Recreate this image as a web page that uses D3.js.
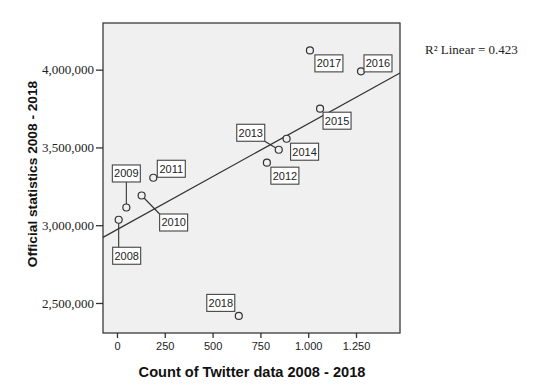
<!DOCTYPE html>
<html>
<head>
<meta charset="utf-8">
<script src="https://cdn.jsdelivr.net/npm/d3@7"></script>
<style>
  html, body { margin: 0; padding: 0; background: #fff; }
  svg { display: block; }
</style>
</head>
<body>
<svg id="chart" width="550" height="385"></svg>
<script>
// data
const years = ["2008","2009","2010","2011","2012","2013","2014","2015","2016","2017","2018"];
const twitterCounts = [9, 49, 129, 190, 784, 846, 887, 1062, 1276, 1009, 637];
const officialStats = [3035000, 3114000, 3191000, 3305000, 3402000, 3485000, 3556000, 3749000, 3989000, 4124000, 2417000];
const xTicks = [0, 250, 500, 750, 1000, 1250];
const yTicks = [2500000, 3000000, 3500000, 4000000];
const r2Text = "R\u00B2 Linear = 0.423";

// label box offsets from the point (px), layout only
const labelOffsets = [[8,36],[0,-34],[32,27],[18,-9],[18,13],[-28,-17],[18,13],[17,12],[17,-8],[19,13],[-18,-13]];

const svg = d3.select("#chart");
const plot = {left: 103, top: 23, right: 400, bottom: 333};
const boxW = 28, boxH = 17;

const x = d3.scaleLinear().domain([-73, 1480]).range([plot.left, plot.right]);
const y = d3.scaleLinear().domain([2307000, 4300000]).range([plot.bottom, plot.top]);

const pts = years.map((yr, i) => ({year: yr, x: twitterCounts[i], y: officialStats[i], off: labelOffsets[i]}));

// plot background + frame
svg.append("rect")
  .attr("x", plot.left).attr("y", plot.top)
  .attr("width", plot.right - plot.left).attr("height", plot.bottom - plot.top)
  .attr("fill", "#f0f0f0").attr("stroke", "#3a3a3a").attr("stroke-width", 1.3);

// axes
const fmtY = d3.format(",");
const fmtX = v => d3.format(",")(v).replace(/,/g, ".");

const yAxis = svg.append("g")
  .attr("transform", `translate(${plot.left},0)`)
  .call(d3.axisLeft(y).tickValues(yTicks).tickFormat(fmtY).tickSize(7).tickPadding(2));
yAxis.select(".domain").remove();
yAxis.selectAll("line").attr("stroke", "#333").attr("stroke-width", 1.3);
yAxis.selectAll("text")
  .attr("font-family", "'Liberation Serif', serif").attr("font-size", 13).attr("fill", "#222");

const xAxis = svg.append("g")
  .attr("transform", `translate(0,${plot.bottom})`)
  .call(d3.axisBottom(x).tickValues(xTicks).tickFormat(fmtX).tickSize(5).tickPadding(4));
xAxis.select(".domain").remove();
xAxis.selectAll("line").attr("stroke", "#333").attr("stroke-width", 1.3);
xAxis.selectAll("text")
  .attr("font-family", "Arial, 'Liberation Sans', sans-serif").attr("font-size", 11).attr("fill", "#222");

// regression fit
const mx = d3.mean(pts, d => d.x), my = d3.mean(pts, d => d.y);
const slope = d3.sum(pts, d => (d.x - mx) * (d.y - my)) / d3.sum(pts, d => (d.x - mx) ** 2);
const icpt = my - slope * mx;
const [x0, x1] = x.domain();
svg.append("line")
  .attr("x1", x(x0)).attr("y1", y(icpt + slope * x0))
  .attr("x2", x(x1)).attr("y2", y(icpt + slope * x1))
  .attr("stroke", "#333").attr("stroke-width", 1.2);

// leader lines (only for labels placed far away), to nearest point of the box
function clampTo(v, c, half){ return Math.max(c - half, Math.min(c + half, v)); }
svg.append("g").selectAll("line")
  .data(pts.filter(d => Math.hypot(d.off[0], d.off[1]) > 25))
  .join("line")
  .attr("x1", d => x(d.x)).attr("y1", d => y(d.y))
  .attr("x2", d => clampTo(x(d.x), x(d.x) + d.off[0], boxW / 2))
  .attr("y2", d => clampTo(y(d.y), y(d.y) + d.off[1], boxH / 2))
  .attr("stroke", "#333").attr("stroke-width", 1.1);

// points
svg.append("g").selectAll("circle")
  .data(pts)
  .join("circle")
  .attr("cx", d => x(d.x)).attr("cy", d => y(d.y))
  .attr("r", 3.5)
  .attr("fill", "#f0f0f0").attr("stroke", "#333").attr("stroke-width", 1.2);

// labels
const lab = svg.append("g").selectAll("g")
  .data(pts)
  .join("g")
  .attr("transform", d => `translate(${x(d.x) + d.off[0]},${y(d.y) + d.off[1]})`);
lab.append("rect")
  .attr("x", -boxW / 2).attr("y", -boxH / 2).attr("width", boxW).attr("height", boxH)
  .attr("fill", "#fff").attr("stroke", "#444").attr("stroke-width", 1.1);
lab.append("text")
  .attr("text-anchor", "middle").attr("dy", "0.36em")
  .attr("font-family", "Arial, 'Liberation Sans', sans-serif").attr("font-size", 11).attr("fill", "#222")
  .text(d => d.year);

// titles
svg.append("text")
  .attr("x", 252).attr("y", 377)
  .attr("text-anchor", "middle")
  .attr("font-family", "Arial, 'Liberation Sans', sans-serif").attr("font-weight", "bold").attr("font-size", 14.6)
  .attr("fill", "#111")
  .text("Count of Twitter data 2008 - 2018");

svg.append("text")
  .attr("transform", "translate(37,174) rotate(-90)")
  .attr("text-anchor", "middle")
  .attr("font-family", "Arial, 'Liberation Sans', sans-serif").attr("font-weight", "bold").attr("font-size", 13.7)
  .attr("fill", "#111")
  .text("Official statistics 2008 - 2018");

svg.append("text")
  .attr("x", 425).attr("y", 54)
  .attr("font-family", "'Liberation Serif', serif").attr("font-size", 13).attr("fill", "#222")
  .text(r2Text);
</script>
</body>
</html>
